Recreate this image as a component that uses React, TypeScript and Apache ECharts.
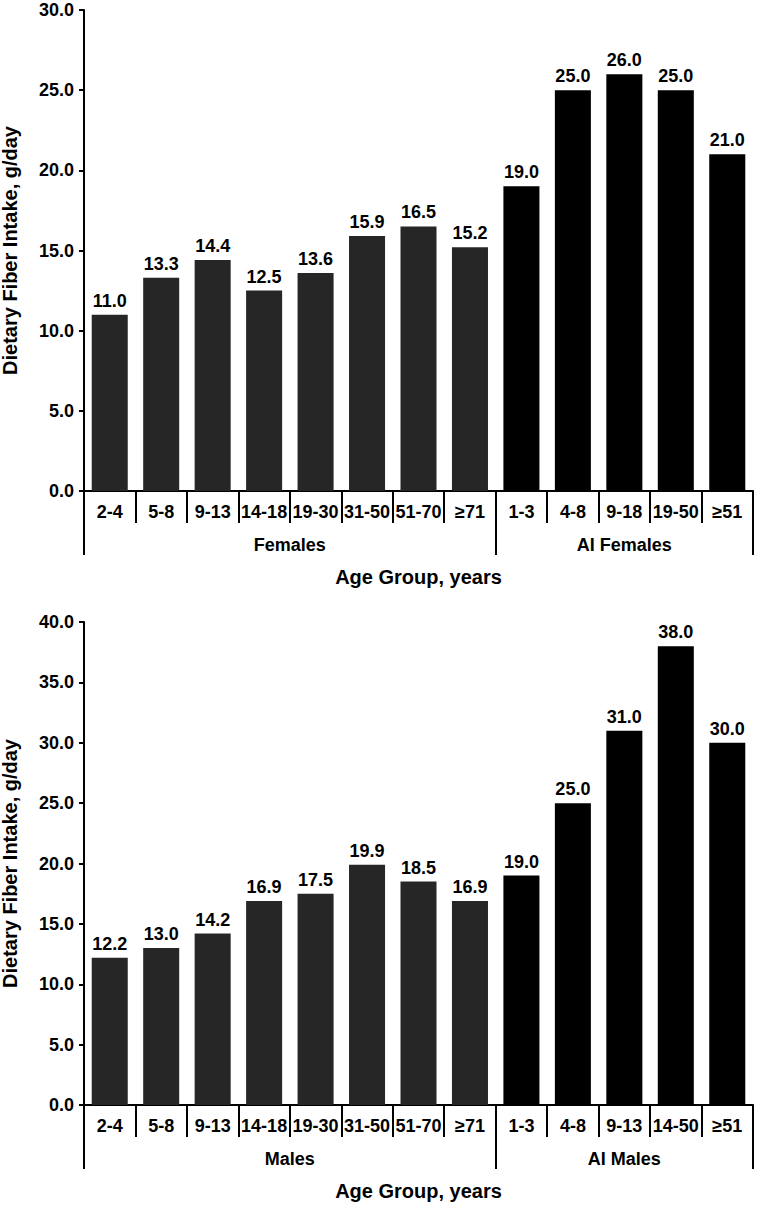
import React, { useEffect, useRef } from "react";
import * as echarts from "echarts";

const femaleCategories = ["2-4", "5-8", "9-13", "14-18", "19-30", "31-50", "51-70", "≥71", "1-3", "4-8", "9-18", "19-50", "≥51"];
const femaleValues = [11.0, 13.3, 14.4, 12.5, 13.6, 15.9, 16.5, 15.2, 19.0, 25.0, 26.0, 25.0, 21.0];
const maleCategories = ["2-4", "5-8", "9-13", "14-18", "19-30", "31-50", "51-70", "≥71", "1-3", "4-8", "9-13", "14-50", "≥51"];
const maleValues = [12.2, 13.0, 14.2, 16.9, 17.5, 19.9, 18.5, 16.9, 19.0, 25.0, 31.0, 38.0, 30.0];
const femaleGroups = ["Females", "AI Females"];
const maleGroups = ["Males", "AI Males"];
const groupBoundaries = [0, 8, 13];
const groupCenters = [4, 10.5];
const topMax = 30;
const bottomMax = 40;
const yInterval = 5;

const FONT = "Liberation Sans, Arial, sans-serif";
const FS = 18;

export default function App() {
  const ref = useRef<HTMLDivElement>(null);
  useEffect(() => {
    document.body.style.margin = "0";
    const chart = echarts.init(ref.current!, null, { renderer: "svg" });
    const lineStyle = { color: "#000", width: 2 };
    const grids = [
      { left: 84, right: 4, top: 10, height: 481, containLabel: false, outerBoundsMode: "none" },
      { left: 84, right: 4, top: 622, height: 483, containLabel: false, outerBoundsMode: "none" },
    ];
    const cats = [femaleCategories, maleCategories];
    const groups = [femaleGroups, maleGroups];
    const maxes = [topMax, bottomMax];
    const vals = [femaleValues, maleValues];
    const xAxis: any[] = [];
    const yAxis: any[] = [];
    const series: any[] = [];
    [0, 1].forEach((g) => {
      xAxis.push({
        type: "category",
        gridIndex: g,
        data: cats[g],
        axisLine: { lineStyle },
        axisTick: { show: true, interval: 0, length: 32, lineStyle },
        axisLabel: { interval: 0, margin: 12, color: "#000", fontFamily: FONT, fontWeight: "bold", fontSize: FS },
      });
      xAxis.push({
        type: "value",
        gridIndex: g,
        position: "bottom",
        min: 0,
        max: 13,
        axisLine: { show: false },
        splitLine: { show: false },
        axisTick: { show: true, customValues: groupBoundaries, length: 64, lineStyle },
        axisLabel: {
          customValues: groupCenters,
          margin: 45,
          color: "#000",
          fontFamily: FONT,
          fontWeight: "bold",
          fontSize: FS,
          formatter: (v: number) => groups[g][groupCenters.indexOf(v)] ?? "",
        },
        name: "Age Group, years",
        nameLocation: "middle",
        nameGap: 76,
        nameTextStyle: { color: "#000", fontFamily: FONT, fontWeight: "bold", fontSize: 20 },
      });
      yAxis.push({
        type: "value",
        gridIndex: g,
        min: 0,
        max: maxes[g],
        interval: yInterval,
        splitLine: { show: false },
        axisLine: { show: true, lineStyle },
        axisTick: { show: true, length: 5, lineStyle },
        axisLabel: {
          margin: 10,
          color: "#000",
          fontFamily: FONT,
          fontWeight: "bold",
          fontSize: FS,
          lineHeight: 18,
          formatter: (v: number) => v.toFixed(1),
        },
        name: "Dietary Fiber Intake, g/day",
        nameLocation: "middle",
        nameGap: 64,
        nameTextStyle: { color: "#000", fontFamily: FONT, fontWeight: "bold", fontSize: 20 },
      });
      series.push({
        type: "bar",
        xAxisIndex: g * 2,
        yAxisIndex: g,
        data: vals[g],
        barCategoryGap: "30%",
        itemStyle: {
          color: (p: any) => (p.dataIndex < groupBoundaries[1] ? "#262626" : "#000000"),
        },
        label: {
          show: true,
          position: "top",
          distance: 5,
          color: "#000",
          fontFamily: FONT,
          fontWeight: "bold",
          fontSize: FS,
          formatter: (p: any) => Number(p.value).toFixed(1),
        },
      });
    });
    chart.setOption({
      animation: false,
      backgroundColor: "#fff",
      grid: grids,
      xAxis,
      yAxis,
      series,
    });
    return () => chart.dispose();
  }, []);
  return <div ref={ref} style={{ width: 757, height: 1206 }} />;
}
